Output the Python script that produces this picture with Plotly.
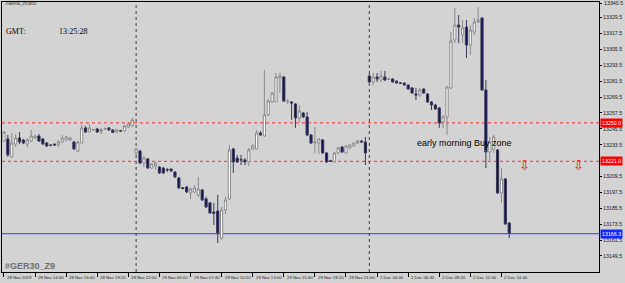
import plotly.graph_objects as go

# ---- candle data (GER30 Z9, M20) ----
opens = [13236.3, 13237.9, 13224.3, 13234.0, 13238.6, 13237.1, 13234.0, 13236.3, 13238.6, 13240.1,
         13237.9, 13234.8, 13233.3, 13234.0, 13233.3, 13235.6, 13237.1, 13237.1, 13235.6, 13228.8,
         13234.8, 13246.2, 13243.1, 13244.7, 13245.4, 13243.1, 13245.4, 13246.2, 13244.7, 13243.1,
         13244.0, 13243.9, 13246.9, 13247.7, 13227.3, 13228.8, 13219.7, 13222.8, 13215.9, 13217.5,
         13216.7, 13215.9, 13214.8, 13215.2, 13212.9, 13208.4, 13201.0, 13201.6, 13197.1, 13197.8,
         13195.6, 13199.4, 13192.6, 13189.6, 13182.7, 13183.5, 13163.1, 13184.3, 13192.6, 13230.3,
         13223.5, 13222.4, 13222.0, 13220.5, 13230.3, 13230.3, 13242.4, 13240.1, 13256.0, 13265.8,
         13265.8, 13283.9, 13284.7, 13266.0, 13265.8, 13264.3, 13253.7, 13257.5, 13254.5, 13240.9,
         13234.8, 13234.8, 13237.1, 13227.3, 13221.5, 13220.5, 13227.3, 13231.8, 13227.3, 13231.1,
         13232.6, 13234.8, 13236.3, 13235.6, 13285.4, 13280.9, 13284.7, 13282.4, 13284.7, 13283.0,
         13283.2, 13281.6, 13280.2, 13280.1, 13278.6, 13276.4, 13271.8, 13271.1, 13275.6, 13271.8,
         13265.8, 13263.5, 13261.3, 13250.7, 13254.5, 13276.4, 13312.6, 13323.9, 13316.4, 13322.4,
         13308.8, 13318.6, 13326.2, 13329.2, 13274.9, 13228.0, 13230.0, 13229.6, 13197.1, 13207.7,
         13174.4]
highs = [13243.9, 13240.9, 13242.4, 13241.6, 13243.1, 13237.9, 13238.6, 13244.7, 13240.9, 13241.6,
         13238.6, 13235.6, 13234.0, 13234.4, 13237.1, 13240.9, 13240.1, 13239.4, 13236.3, 13236.3,
         13248.4, 13247.7, 13249.2, 13245.5, 13246.2, 13246.2, 13246.5, 13246.9, 13245.0, 13245.0,
         13244.7, 13248.4, 13249.9, 13253.7, 13231.1, 13229.6, 13225.0, 13223.5, 13219.7, 13220.5,
         13217.5, 13216.7, 13215.9, 13215.6, 13213.7, 13209.2, 13201.6, 13202.4, 13200.9, 13203.1,
         13209.2, 13200.1, 13194.1, 13190.3, 13189.6, 13195.6, 13186.5, 13194.1, 13233.3, 13231.1,
         13225.8, 13225.8, 13223.5, 13231.1, 13234.0, 13244.7, 13243.9, 13289.9, 13268.1, 13273.3,
         13287.7, 13287.7, 13285.4, 13268.0, 13266.5, 13265.0, 13263.5, 13258.2, 13258.2, 13241.6,
         13246.9, 13238.6, 13237.9, 13228.0, 13222.0, 13228.0, 13231.8, 13232.6, 13233.3, 13234.0,
         13235.2, 13237.1, 13237.1, 13239.4, 13286.9, 13287.7, 13287.7, 13289.2, 13289.2, 13283.9,
         13283.5, 13282.0, 13280.8, 13280.5, 13279.0, 13277.1, 13276.4, 13276.4, 13276.0, 13272.6,
         13266.5, 13264.3, 13262.0, 13256.0, 13277.9, 13318.6, 13336.8, 13331.5, 13327.7, 13327.7,
         13323.9, 13329.2, 13337.5, 13330.0, 13282.4, 13239.4, 13240.9, 13230.3, 13215.9, 13208.4,
         13175.1]
lows = [13235.6, 13224.3, 13223.5, 13231.8, 13234.0, 13234.0, 13231.8, 13235.6, 13237.9, 13235.6,
        13233.3, 13231.8, 13232.6, 13232.6, 13231.8, 13234.8, 13236.3, 13236.3, 13229.6, 13228.0,
        13234.8, 13242.4, 13242.8, 13244.0, 13242.4, 13241.6, 13244.7, 13244.0, 13242.4, 13242.4,
        13243.1, 13243.5, 13246.5, 13247.3, 13225.8, 13219.0, 13216.7, 13215.2, 13215.2, 13214.5,
        13211.4, 13211.4, 13212.9, 13212.9, 13208.4, 13200.1, 13199.8, 13197.1, 13192.6, 13197.1,
        13194.1, 13191.0, 13185.8, 13181.2, 13172.9, 13159.3, 13161.6, 13181.2, 13191.8, 13212.2,
        13219.7, 13218.2, 13218.2, 13217.5, 13229.6, 13229.9, 13240.1, 13239.4, 13255.2, 13265.0,
        13265.8, 13272.6, 13265.8, 13264.0, 13252.2, 13246.2, 13250.7, 13253.7, 13240.1, 13234.0,
        13227.3, 13226.5, 13226.5, 13219.7, 13220.5, 13220.1, 13226.5, 13227.3, 13226.9, 13230.3,
        13232.2, 13234.0, 13234.8, 13218.2, 13280.1, 13278.6, 13280.9, 13280.9, 13281.6, 13282.4,
        13280.5, 13279.7, 13279.5, 13278.2, 13275.2, 13271.8, 13267.3, 13269.6, 13271.8, 13265.0,
        13259.8, 13259.8, 13246.2, 13246.2, 13240.9, 13275.6, 13310.3, 13310.3, 13310.3, 13299.0,
        13301.3, 13316.4, 13325.4, 13274.1, 13215.9, 13222.0, 13227.3, 13196.3, 13189.6, 13172.9,
        13163.1]
closes = [13243.1, 13225.8, 13234.8, 13238.6, 13235.6, 13234.8, 13237.1, 13240.1, 13240.1, 13236.3,
          13234.0, 13232.6, 13233.0, 13233.3, 13235.6, 13238.6, 13239.4, 13238.6, 13230.3, 13235.6,
          13246.2, 13243.1, 13246.2, 13245.0, 13243.1, 13245.0, 13245.6, 13244.7, 13242.8, 13244.7,
          13243.9, 13247.7, 13249.2, 13252.2, 13230.3, 13219.7, 13223.5, 13215.9, 13219.0, 13219.7,
          13212.2, 13212.2, 13214.5, 13213.7, 13209.2, 13200.9, 13200.5, 13197.8, 13200.1, 13200.9,
          13200.1, 13191.8, 13186.5, 13182.0, 13181.6, 13166.9, 13184.3, 13191.8, 13229.6, 13220.5,
          13220.5, 13222.0, 13220.5, 13229.6, 13232.6, 13242.4, 13240.9, 13256.0, 13266.5, 13272.6,
          13284.7, 13285.4, 13266.5, 13266.5, 13265.0, 13253.7, 13259.0, 13254.5, 13240.9, 13234.8,
          13235.6, 13237.9, 13227.3, 13220.5, 13221.0, 13227.3, 13231.1, 13228.0, 13232.6, 13233.3,
          13234.8, 13236.3, 13235.6, 13227.3, 13280.9, 13284.7, 13283.2, 13285.4, 13282.4, 13283.2,
          13280.9, 13280.1, 13280.0, 13278.6, 13275.6, 13272.6, 13271.1, 13274.9, 13272.6, 13265.8,
          13263.5, 13260.5, 13249.9, 13254.5, 13277.1, 13311.8, 13323.9, 13322.4, 13321.7, 13308.8,
          13320.2, 13326.2, 13327.7, 13274.9, 13228.0, 13235.6, 13239.4, 13197.1, 13207.7, 13173.7,
          13166.9]
bars = list(range(len(opens)))

# ---- axis texts ----
tick_labels = ["28 Nov 2019", "28 Nov 14:00", "28 Nov 16:40", "28 Nov 19:20", "28 Nov 22:00",
               "29 Nov 05:00", "29 Nov 07:40", "29 Nov 10:20", "29 Nov 13:00", "29 Nov 15:40",
               "29 Nov 18:20", "29 Nov 21:00", "2 Dec 04:00", "2 Dec 06:40", "2 Dec 09:20",
               "2 Dec 12:00", "2 Dec 14:40"]
tick_bars = [8 * k for k in range(len(tick_labels))]
price_ticks = [13340.5, 13329.5, 13317.5, 13305.5, 13293.5, 13281.5, 13269.5, 13257.5, 13245.5,
               13233.5, 13209.5, 13197.5, 13185.5, 13173.5, 13161.5, 13149.5]

# ---- drawn objects ----
red_levels = [13250.0, 13221.0]
blue_level = 13166.3
day_separators = [34, 94]
arrow_bars = [134.0, 147.9]
arrow_price = 13218.2
zone_text = "early morning Buy zone"
zone_bar = 105.7
zone_price = 13234.8

BG = "#d3d3d3"
SANS = "Liberation Sans, Arial, sans-serif"
Y_RANGE = [13137.4, 13341.3]

fig = go.Figure()
fig.add_trace(go.Candlestick(
    x=bars, open=opens, high=highs, low=lows, close=closes,
    increasing=dict(line=dict(color="#8a8a8a", width=1), fillcolor="#ffffff"),
    decreasing=dict(line=dict(color="#3a3a58", width=1), fillcolor="#0c0c5c"),
    whiskerwidth=0, hoverinfo="skip", showlegend=False,
))

shapes = []
for b in day_separators:
    shapes.append(dict(type="line", xref="x", yref="paper", x0=b, x1=b, y0=0, y1=1,
                       line=dict(color="#404040", width=1, dash="dot"), layer="below"))
for lv in red_levels:
    shapes.append(dict(type="line", xref="paper", yref="y", x0=0, x1=1, y0=lv, y1=lv,
                       line=dict(color="#ff2a2a", width=1, dash="dot"), layer="below"))
shapes.append(dict(type="line", xref="paper", yref="y", x0=0, x1=1, y0=blue_level, y1=blue_level,
                   line=dict(color="#2a3cff", width=1), layer="below"))

ann = []
for b, t in zip(tick_bars, tick_labels):
    ann.append(dict(x=b, xref="x", y=0, yref="paper", text=t, showarrow=False,
                    xanchor="left", yanchor="top", xshift=1, yshift=-1,
                    font=dict(family=SANS, size=4.3, color="#1a1a1a")))
# top price label (would be culled at the range edge)
ann.append(dict(x=1, xref="paper", y=price_ticks[0], yref="y", text=f"{price_ticks[0]:.1f}",
                showarrow=False, xanchor="left", yanchor="middle", xshift=3,
                font=dict(family=SANS, size=5.3, color="#1a1a1a")))
for lv in red_levels:
    ann.append(dict(x=1, xref="paper", y=lv, yref="y", text=f"{lv:.1f}", showarrow=False,
                    xanchor="left", yanchor="middle", xshift=1, bgcolor="#ff0000", borderpad=1,
                    font=dict(family=SANS, size=5.3, color="#ffffff")))
ann.append(dict(x=1, xref="paper", y=blue_level, yref="y", text=f"{blue_level:.1f}", showarrow=False,
                xanchor="left", yanchor="middle", xshift=1, bgcolor="#1428ff", borderpad=1,
                font=dict(family=SANS, size=5.3, color="#ffffff")))
for b in arrow_bars:
    ann.append(dict(x=b, xref="x", y=arrow_price, yref="y", text="⇩", showarrow=False,
                    xanchor="center", yanchor="middle",
                    font=dict(family="DejaVu Sans", size=13, color="#ff0000")))
ann.append(dict(x=zone_bar, xref="x", y=zone_price, yref="y", text=zone_text, showarrow=False,
                xanchor="left", yanchor="middle", font=dict(family=SANS, size=9, color="#000000")))
ann.append(dict(x=0.002, xref="paper", y=0.9926, yref="paper", text="#GER30_Z9,M20", showarrow=False,
                xanchor="left", yanchor="middle", font=dict(family=SANS, size=4, color="#111111")))
ann.append(dict(x=0.0034, xref="paper", y=0.889, yref="paper", text="GMT:", showarrow=False,
                xanchor="left", yanchor="middle",
                font=dict(family="Liberation Serif, Times New Roman, serif", size=8, color="#000000")))
ann.append(dict(x=0.0921, xref="paper", y=0.889, yref="paper", text="13:25:28", showarrow=False,
                xanchor="left", yanchor="middle",
                font=dict(family="Liberation Serif, Times New Roman, serif", size=8, color="#000000")))
ann.append(dict(x=0.0025, xref="paper", y=0.0222, yref="paper", text="<b>#GER30_Z9</b>", showarrow=False,
                xanchor="left", yanchor="middle", font=dict(family=SANS, size=9, color="#6e6e6e")))

fig.update_layout(
    template="none",
    width=625, height=283,
    margin=dict(l=2, r=26, t=2, b=11, pad=0),
    paper_bgcolor=BG, plot_bgcolor=BG,
    showlegend=False,
    boxgap=0.2,
    font=dict(family=SANS, size=6, color="#1a1a1a"),
    shapes=shapes, annotations=ann,
    xaxis=dict(range=[-0.51, 153.1], showgrid=False, zeroline=False,
               showline=True, mirror=True, linecolor="#000000", linewidth=1,
               tickvals=tick_bars, ticktext=[""] * len(tick_bars),
               ticks="outside", ticklen=4, tickcolor="#000000", tickwidth=1,
               rangeslider=dict(visible=False), automargin=False, fixedrange=True),
    yaxis=dict(range=Y_RANGE, side="right", showgrid=False, zeroline=False,
               showline=True, mirror=True, linecolor="#000000", linewidth=1,
               tickvals=price_ticks, ticktext=[f"{v:.1f}" for v in price_ticks],
               ticks="outside", ticklen=2, tickcolor="#000000", tickwidth=1,
               tickfont=dict(family=SANS, size=5.3, color="#1a1a1a"),
               automargin=False, fixedrange=True),
)

fig.write_html("out.html")
